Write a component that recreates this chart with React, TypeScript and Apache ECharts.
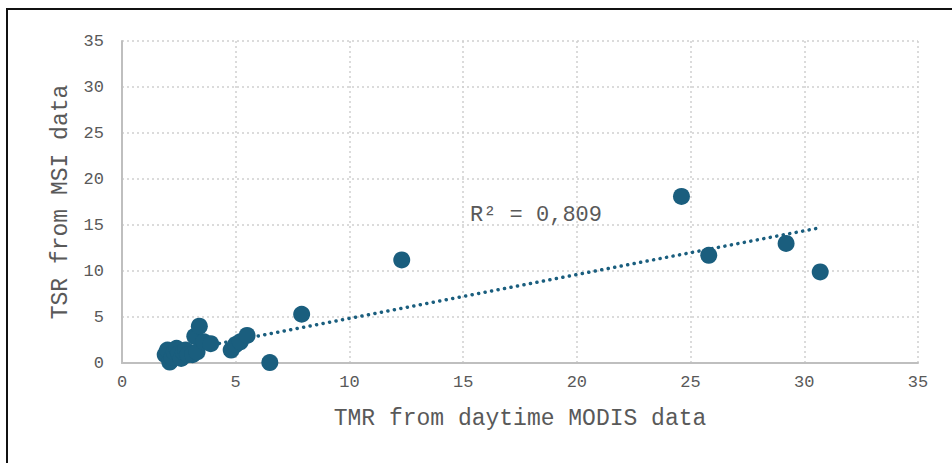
import React, { useEffect, useRef } from "react";
import * as echarts from "echarts";

const xTicks = [0, 5, 10, 15, 20, 25, 30, 35];
const yTicks = [0, 5, 10, 15, 20, 25, 30, 35];

const tmrValues = [
  1.9, 2.0, 2.1, 2.2, 2.3, 2.4, 2.5, 2.6, 2.7, 2.8, 2.9, 3.1, 3.3, 3.2, 3.4, 3.6,
  3.9, 4.8, 5.0, 5.2, 5.5, 6.5, 7.9, 12.3, 24.6, 25.8, 29.2, 30.7,
];
const tsrValues = [
  0.9, 1.4, 0.1, 0.6, 1.2, 1.6, 1.0, 0.5, 1.2, 1.4, 0.9, 0.9, 1.2, 2.9, 4.0, 2.3,
  2.1, 1.4, 2.0, 2.3, 3.0, 0.05, 5.3, 11.2, 18.1, 11.7, 13.0, 9.9,
];

const trendStart = [2.0, 1.04];
const trendEnd = [30.7, 14.7];
const r2Label = "R² = 0,809";

const xName = "TMR from daytime MODIS data";
const yName = "TSR from MSI data";

const FONT = "'Liberation Mono', 'DejaVu Sans Mono', monospace";
const TEXT = "#595959";
const DOT = "#1a5e7e";

export default function App() {
  const ref = useRef<HTMLDivElement>(null);
  useEffect(() => {
    if (!ref.current) return;
    const chart = echarts.init(ref.current, undefined, { renderer: "svg" });
    const points = tmrValues.map((x, i) => [x, tsrValues[i]]);
    chart.setOption({
      animation: false,
      backgroundColor: "#ffffff",
      grid: { left: 122, right: 34, top: 41, bottom: 100 },
      xAxis: {
        type: "value",
        min: xTicks[0],
        max: xTicks[xTicks.length - 1],
        interval: 5,
        name: xName,
        nameLocation: "middle",
        nameGap: 44,
        nameTextStyle: { fontFamily: FONT, fontSize: 23, color: TEXT },
        axisLine: { show: true, lineStyle: { color: "#bfbfbf", width: 2 } },
        axisTick: { show: false },
        axisLabel: { fontFamily: FONT, fontSize: 17, color: TEXT, margin: 11 },
        splitLine: { show: true, lineStyle: { color: "#d0d0d0", type: [2, 3], width: 1.5 } },
      },
      yAxis: {
        type: "value",
        min: yTicks[0],
        max: yTicks[yTicks.length - 1],
        interval: 5,
        name: yName,
        nameLocation: "middle",
        nameGap: 50,
        nameTextStyle: { fontFamily: FONT, fontSize: 23, color: TEXT },
        axisLine: { show: true, lineStyle: { color: "#bfbfbf", width: 2 } },
        axisTick: { show: false },
        axisLabel: { fontFamily: FONT, fontSize: 17, color: TEXT, margin: 18 },
        splitLine: { show: true, lineStyle: { color: "#d0d0d0", type: [2, 3], width: 1.5 } },
      },
      graphic: [
        {
          type: "rect",
          shape: { x: 7, y: 9, width: 1000, height: 500 },
          style: { fill: "none", stroke: "#111", lineWidth: 2 },
          silent: true,
        },
        {
          type: "text",
          x: 470,
          y: 215,
          style: {
            text: r2Label,
            font: `22px ${FONT}`,
            fill: TEXT,
            verticalAlign: "middle",
          },
          z: 10,
        },
      ],
      series: [
        {
          type: "line",
          data: [trendStart, trendEnd],
          symbol: "none",
          lineStyle: { color: DOT, width: 3.5, type: [0.1, 6.5], cap: "round" },
          z: 1,
        },
        {
          type: "scatter",
          data: points,
          symbol: "circle",
          symbolSize: 17,
          itemStyle: { color: DOT, opacity: 1 },
          z: 3,
        },
      ],
    });
    return () => chart.dispose();
  }, []);
  return (
    <div
      ref={ref}
      style={{ position: "fixed", left: 0, top: 0, width: 952, height: 463 }}
    />
  );
}
